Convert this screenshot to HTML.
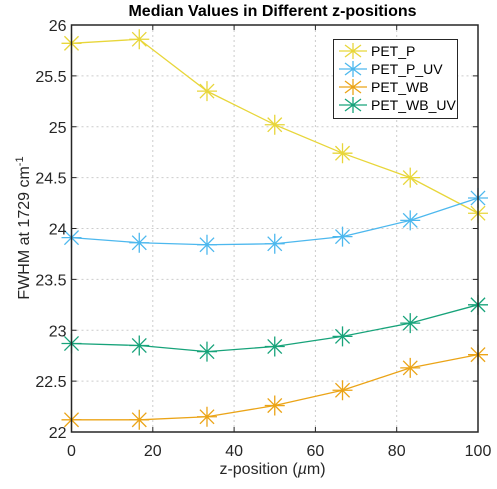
<!DOCTYPE html>
<html><head><meta charset="utf-8"><style>
body{margin:0;background:#fff;font-family:"Liberation Sans",sans-serif}
</style></head><body>
<svg id="c" width="497" height="484" xmlns="http://www.w3.org/2000/svg"></svg>
<script>
const xVals=[0,16.67,33.33,50,66.67,83.33,100];
const seriesNames=["PET_P","PET_P_UV","PET_WB","PET_WB_UV"];
const petP=[25.82,25.86,25.35,25.02,24.74,24.50,24.15];
const petPUV=[23.91,23.86,23.84,23.85,23.92,24.08,24.30];
const petWB=[22.12,22.12,22.15,22.26,22.41,22.63,22.76];
const petWBUV=[22.87,22.85,22.79,22.84,22.94,23.07,23.25];
const xTicks=[0,20,40,60,80,100];
const yTicks=[22,22.5,23,23.5,24,24.5,25,25.5,26];
const colors=["#E8D63A","#4DB8EE","#EBA417","#17A37A"];
const L=71.5,R=478,T=25,B=432;
const sx=v=>L+(v-0)/100*(R-L), sy=v=>B-(v-22)/4*(B-T);
const svg=document.getElementById('c');const NS="http://www.w3.org/2000/svg";
function mk(t,a,p){const e=document.createElementNS(NS,t);for(const k in a)e.setAttribute(k,a[k]);(p||svg).appendChild(e);return e;}
xTicks.forEach(v=>{const e=mk('line',{x1:sx(v),x2:sx(v),y1:T,y2:B,stroke:'#ccc','stroke-dasharray':'2,3'});

});
yTicks.forEach(v=>{const e=mk('line',{x1:L,x2:R,y1:sy(v),y2:sy(v),stroke:'#ccc','stroke-dasharray':'2,3'});

});
const all=[petP,petPUV,petWB,petWBUV];
all.forEach((ys,si)=>{
 const pts=xVals.map((x,i)=>[sx(x),sy(ys[i])]);
 const ln=mk('polyline',{points:pts.map(p=>p.join(',')).join(' '),fill:'none',stroke:colors[si],'stroke-width':1.3});
 
 
 pts.forEach(p=>{const g=mk('path',{d:star(p[0],p[1],10),stroke:colors[si],'stroke-width':1.3,fill:'none'});
  
  });
});
function star(x,y,r){const a=r*0.707;return `M${x-r},${y}H${x+r}M${x},${y-r}V${y+r}M${x-a},${y-a}L${x+a},${y+a}M${x-a},${y+a}L${x+a},${y-a}`;}
const ax=mk('rect',{x:L,y:T,width:R-L,height:B-T,fill:'none',stroke:'#262626','stroke-width':1.5});


xTicks.forEach(v=>{mk('line',{x1:sx(v),x2:sx(v),y1:B,y2:B-5,stroke:'#262626'});mk('line',{x1:sx(v),x2:sx(v),y1:T,y2:T+5,stroke:'#262626'});
 const t=mk('text',{x:sx(v),y:B+24,'text-anchor':'middle','font-size':16,fill:'#262626'});t.textContent=v;
 
 });
yTicks.forEach(v=>{mk('line',{x1:L,x2:L+5,y1:sy(v),y2:sy(v),stroke:'#262626'});mk('line',{x1:R,x2:R-5,y1:sy(v),y2:sy(v),stroke:'#262626'});
 const t=mk('text',{x:L-5,y:sy(v)+6,'text-anchor':'end','font-size':16,fill:'#262626'});t.textContent=v;
 
 });
</script>
<div style="position:absolute;left:0;width:497px;text-align:center;padding-left:48px;box-sizing:border-box;font-weight:bold;font-size:16px;top:3px">Median Values in Different z-positions</div>
<div style="position:absolute;left:0;width:497px;padding-left:48px;box-sizing:border-box;text-align:center;font-size:16px;color:#262626;line-height:16px;top:462px">z-position (<i>µ</i>m)</div>
<div style="position:absolute;left:24px;top:228px;transform:translate(-50%,-50%) rotate(-90deg);white-space:nowrap;font-size:16px;color:#262626">FWHM at 1729 cm<sup style="font-size:11px">-1</sup></div>
<div style="position:absolute;left:333px;top:39px;width:123px;height:78px;border:1.5px solid #262626;background:#fff;font-size:14px;color:#000">
<svg width="123" height="78" style="position:absolute;left:0;top:0">
<g stroke-width="1.3" fill="none">
<g stroke="#E8D63A"><path d="M5,11H33M11,5L27,17M11,17L27,5M19,3V19"/></g>
<g stroke="#4DB8EE"><path d="M5,29H33M11,23L27,35M11,35L27,23M19,21V37"/></g>
<g stroke="#EBA417"><path d="M5,47H33M11,41L27,53M11,53L27,41M19,39V55"/></g>
<g stroke="#17A37A"><path d="M5,65H33M11,59L27,71M11,71L27,59M19,57V73"/></g>
</g>
<text x="37" y="16" font-size="14" font-family="Liberation Sans">PET_P</text>
<text x="37" y="34" font-size="14" font-family="Liberation Sans">PET_P_UV</text>
<text x="37" y="52" font-size="14" font-family="Liberation Sans">PET_WB</text>
<text x="37" y="70" font-size="14" font-family="Liberation Sans">PET_WB_UV</text>
</svg></div>
</body></html>
